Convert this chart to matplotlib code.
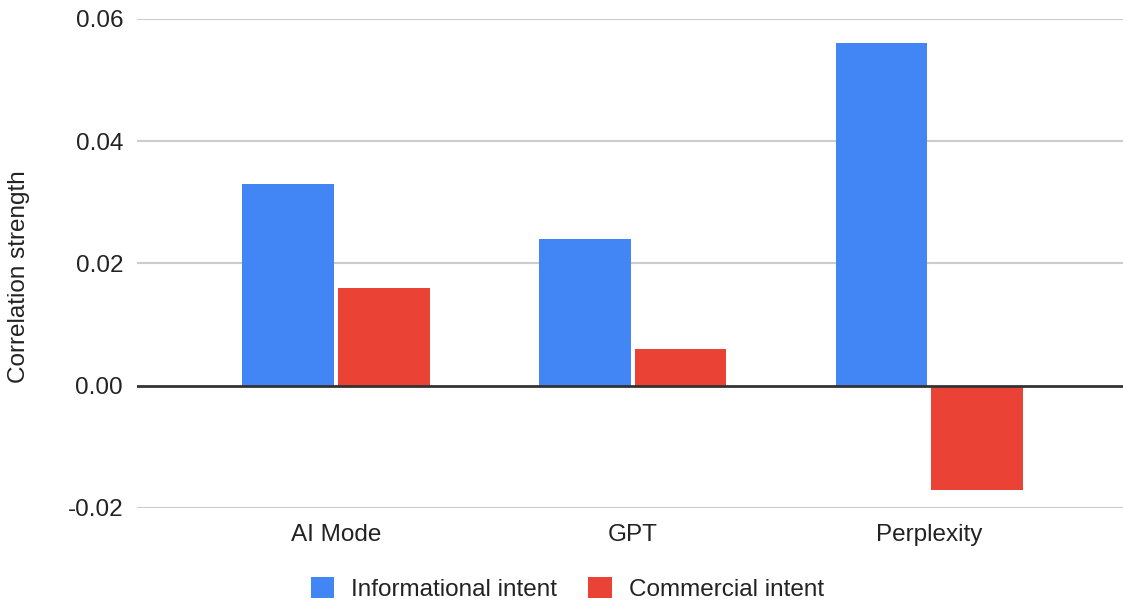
import matplotlib
matplotlib.use("Agg")
import matplotlib.pyplot as plt
import numpy as np

categories = ["AI Mode", "GPT", "Perplexity"]
informational = [0.033, 0.024, 0.056]
commercial = [0.016, 0.006, -0.017]
series_names = ["Informational intent", "Commercial intent"]
y_ticks = [-0.02, 0.00, 0.02, 0.04, 0.06]

BLUE = "#4285F4"
RED = "#EA4335"
TEXT = "#222222"

plt.rcParams["font.family"] = ["Liberation Sans", "DejaVu Sans"]

W, H = 1123, 603
fig = plt.figure(figsize=(W / 100, H / 100), dpi=100)
ax = fig.add_axes([137 / W, 1 - 508 / H, 1 - 137 / W, (508 - 18.7) / H])

x = np.arange(len(categories))
width = 0.309
offset = 0.1613
ax.bar(x - offset, informational, width, color=BLUE, label=series_names[0], zorder=3)
ax.bar(x + offset, commercial, width, color=RED, label=series_names[1], zorder=3)

ax.set_xlim(-0.670, 2.652)
ax.set_ylim(-0.02, 0.06)
ax.set_yticks(y_ticks)
ax.set_yticklabels([f"{v:.2f}" for v in y_ticks])
ax.set_xticks(x)
ax.set_xticklabels(categories)

for v in y_ticks:
    if v == 0:
        ax.axhline(v, color="#333333", lw=2, zorder=4)
    else:
        ax.axhline(v, color="#cccccc", lw=1.5, zorder=1)

for s in ax.spines.values():
    s.set_visible(False)
ax.tick_params(axis="both", length=0, labelsize=17.5, colors=TEXT)
ax.tick_params(axis="y", pad=10)
ax.tick_params(axis="x", pad=11.5)

fig.text(19 / W, 1 - 276.5 / H, "Correlation strength", rotation=90,
         ha="center", va="center", fontsize=17.5, color=TEXT)

handles, labels = ax.get_legend_handles_labels()
fig.legend(handles, labels, loc="center", bbox_to_anchor=(567.5 / W, 1 - 589 / H),
           ncol=2, frameon=False, fontsize=17.5, handlelength=0.95, handleheight=0.95,
           handletextpad=0.7, columnspacing=1.28, labelcolor=TEXT)

fig.savefig("out.png", dpi=100, facecolor="white")
